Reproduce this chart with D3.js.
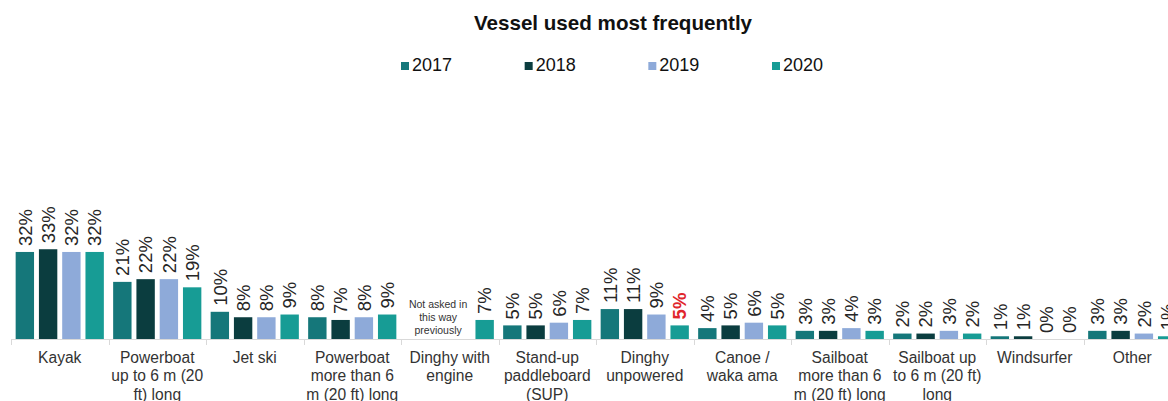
<!DOCTYPE html>
<html>
<head>
<meta charset="utf-8">
<script src="https://cdn.jsdelivr.net/npm/d3@7"></script>
<style>
  html, body { margin: 0; padding: 0; background: #fff; }
  svg { display: block; font-family: "Liberation Sans", Arial, sans-serif; }
</style>
</head>
<body>
<svg id="chart" width="1168" height="401"></svg>
<script>
const title = "Vessel used most frequently";
const years = ["2017", "2018", "2019", "2020"];
const categories = [
  "Kayak",
  "Powerboat\nup to 6 m (20\nft) long",
  "Jet ski",
  "Powerboat\nmore than 6\nm (20 ft) long",
  "Dinghy with\nengine",
  "Stand-up\npaddleboard\n(SUP)",
  "Dinghy\nunpowered",
  "Canoe /\nwaka ama",
  "Sailboat\nmore than 6\nm (20 ft) long",
  "Sailboat up\nto 6 m (20 ft)\nlong",
  "Windsurfer",
  "Other"
];
const values2017 = [32, 21, 10, 8, null, 5, 11, 4, 3, 2, 1, 3];
const values2018 = [33, 22, 8, 7, null, 5, 11, 5, 3, 2, 1, 3];
const values2019 = [32, 22, 8, 8, null, 6, 9, 6, 4, 3, 0, 2];
const values2020 = [32, 19, 9, 9, 7, 7, 5, 5, 3, 2, 0, 1];
const seriesColors = ["#15777a", "#0b3d3f", "#8eaad9", "#179c95"];
const highlighted = [{ category: "Dinghy\nunpowered", year: "2020" }];
const noteCategory = "Dinghy with\nengine";
const noteLines = ["Not asked in", "this way", "previously"];

const seriesValues = [values2017, values2018, values2019, values2020];
const rows = [];
categories.forEach((c, i) => {
  years.forEach((y, j) => {
    rows.push({ category: c, year: y, value: seriesValues[j][i], color: seriesColors[j] });
  });
});

const svg = d3.select("#chart");
const baseY = 339;

const x0 = d3.scaleBand().domain(categories).range([11, 11 + 12 * 97.5]).padding(0);
const x1 = d3.scaleBand().domain(years).range([0, x0.bandwidth()]).paddingInner(0.21).paddingOuter(0.2);
const y = d3.scaleLinear().domain([0, 50]).range([baseY, baseY - 136]);

// title
svg.append("text")
  .attr("x", 613).attr("y", 30)
  .attr("text-anchor", "middle")
  .attr("font-weight", "bold")
  .attr("font-size", 20.6)
  .attr("fill", "#111")
  .text(title);

// legend
const legendX = d3.scalePoint().domain(years).range([401, 772]);
const lg = svg.append("g").selectAll("g").data(years).join("g")
  .attr("transform", d => `translate(${legendX(d)},0)`);
lg.append("rect").attr("x", 0).attr("y", 62).attr("width", 8).attr("height", 8)
  .attr("fill", (d, i) => seriesColors[i]);
lg.append("text").attr("x", 11).attr("y", 71)
  .attr("font-size", 18).attr("fill", "#111").text(d => d);

// bars
const barData = rows.filter(d => d.value !== null);
svg.append("g").selectAll("rect").data(barData).join("rect")
  .attr("x", d => x0(d.category) + x1(d.year))
  .attr("width", x1.bandwidth())
  .attr("y", d => y(d.value))
  .attr("height", d => baseY - y(d.value))
  .attr("fill", d => d.color);

// axis
const axisG = svg.append("g").attr("transform", `translate(0,${baseY})`);
axisG.append("line").attr("x1", x0.range()[0]).attr("x2", x0.range()[1])
  .attr("y1", 0.5).attr("y2", 0.5).attr("stroke", "#d9d9d9").attr("stroke-width", 1);
const tickPos = categories.map(c => x0(c)).concat([x0.range()[1]]);
axisG.selectAll("line.tick").data(tickPos).join("line").attr("class", "tick")
  .attr("x1", d => Math.round(d) + 0.5).attr("x2", d => Math.round(d) + 0.5)
  .attr("y1", 0).attr("y2", 6).attr("stroke", "#d9d9d9");

// category labels
const catText = axisG.selectAll("text.cat").data(categories).join("text").attr("class", "cat")
  .attr("text-anchor", "middle")
  .attr("font-size", 15.6)
  .attr("fill", "#333");
catText.each(function(c) {
  const t = d3.select(this);
  c.split("\n").forEach((line, k) => {
    t.append("tspan").attr("x", x0(c) + x0.bandwidth() / 2).attr("y", 24 + k * 18.3).text(line);
  });
});

// data labels
const isRed = d => highlighted.some(h => h.category === d.category && h.year === d.year);
svg.append("g").selectAll("text").data(barData).join("text")
  .attr("transform", d => `translate(${x0(d.category) + x1(d.year) + x1.bandwidth() / 2},${y(d.value) - 6}) rotate(-90)`)
  .attr("dy", "0.36em")
  .attr("font-size", 18.5)
  .attr("font-weight", d => isRed(d) ? "bold" : "normal")
  .attr("fill", d => isRed(d) ? "#e0262c" : "#262626")
  .text(d => d.value + "%");

// note
const noteX = x0(noteCategory) + (x1("2017") + x1("2019") + x1.bandwidth()) / 2;
svg.append("text").attr("text-anchor", "middle").attr("font-size", 10.5).attr("fill", "#333")
  .selectAll("tspan").data(noteLines).join("tspan")
  .attr("x", noteX).attr("y", (d, i) => 308 + i * 13).text(d => d);
</script>
</body>
</html>
